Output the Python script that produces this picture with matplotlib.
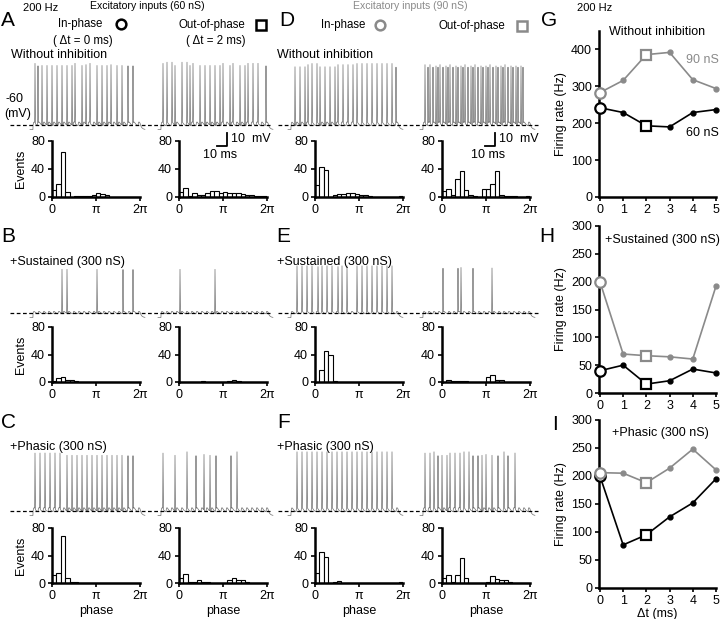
import numpy as np
import matplotlib.pyplot as plt

plt.rcParams['font.family'] = ['Liberation Sans', 'DejaVu Sans']
plt.rcParams['font.size'] = 9

W, H = 720, 619
GRAY = '#8a8a8a'
TRACE = '#6e6e6e'

# firing rate vs delay between the two inputs
dt_ms = [0, 1, 2, 3, 4, 5]
rate_none_60 = [242, 229, 193, 190, 229, 237]
rate_none_90 = [283, 316, 386, 392, 318, 294]
rate_sus_60 = [40, 50, 16, 22, 43, 36]
rate_sus_90 = [200, 70, 67, 65, 61, 192]
rate_pha_60 = [200, 77, 95, 127, 152, 195]
rate_pha_90 = [206, 205, 188, 214, 248, 211]

# phase histograms (20 bins over 0..2pi)
hist_A_in = [10, 18, 64, 7, 0, 1, 1, 2, 2, 3, 6, 4, 3, 0, 0, 0, 0, 0, 0, 0]
hist_A_out = [7, 13, 2, 5, 3, 3, 5, 8, 9, 6, 7, 5, 6, 5, 4, 3, 3, 2, 2, 1]
hist_D_in = [17, 43, 38, 0, 3, 4, 4, 5, 6, 4, 3, 3, 1, 0, 0, 0, 0, 0, 0, 2]
hist_D_out = [9, 11, 3, 26, 37, 10, 3, 2, 0, 12, 12, 18, 37, 3, 2, 1, 1, 0, 0, 1]
hist_B_in = [1, 6, 7, 3, 3, 2, 0, 0, 0, 0, 0, 0, 0, 0, 0, 0, 0, 0, 0, 0]
hist_B_out = [0, 0, 0, 0, 0, 1, 0, 0, 0, 0, 0, 1, 3, 1, 0, 0, 0, 0, 0, 0]
hist_E_in = [0, 17, 45, 39, 1, 0, 0, 0, 0, 0, 0, 0, 0, 0, 0, 0, 0, 0, 0, 0]
hist_E_out = [0, 3, 2, 2, 1, 1, 0, 0, 0, 0, 7, 10, 3, 3, 0, 0, 0, 0, 0, 0]
hist_C_in = [12, 15, 68, 8, 1, 1, 0, 0, 0, 0, 0, 0, 0, 0, 0, 0, 0, 0, 0, 0]
hist_C_out = [7, 13, 2, 2, 4, 2, 1, 0, 0, 0, 0, 5, 7, 4, 4, 1, 0, 0, 0, 0]
hist_F_in = [15, 45, 38, 0, 2, 3, 0, 0, 0, 0, 0, 0, 0, 0, 0, 0, 0, 0, 0, 1]
hist_F_out = [8, 11, 2, 12, 36, 7, 0, 0, 0, 0, 2, 10, 6, 4, 5, 1, 0, 0, 0, 0]

# spike times in the example traces (ms from trace start)
spk_A_in = [5, 8, 12, 17, 22, 27, 32, 37, 42, 45, 52, 56, 60, 67, 72, 77, 81, 87, 92, 98, 103]
spk_A_out = [5, 9, 14, 17, 24, 29, 32, 35, 42, 47, 52, 57, 62, 65, 72, 75, 82, 87, 90, 95, 100, 108]
spk_D_in = [7, 12, 17, 20, 24, 29, 32, 37, 42, 47, 50, 55, 60, 65, 69, 74, 79, 84, 89, 94, 99, 104, 108]
spk_D_out = [5, 8, 10, 13, 16, 18, 20, 23, 26, 28, 30, 33, 36, 38, 41, 43, 45, 48, 51, 53,
             55, 58, 61, 63, 66, 68, 70, 73, 76, 78, 81, 83, 85, 88, 91, 93, 96, 98, 101, 103]
spk_B_in = [32, 37, 67, 93, 103]
spk_B_out = [22, 57]
spk_E_in = [9, 14, 19, 24, 30, 34, 39, 44, 50, 54, 59, 69, 74, 79, 84, 89, 94, 99, 104]
spk_E_out = [23, 38, 41, 53, 72]
spk_C_in = [5, 10, 15, 20, 25, 30, 37, 42, 47, 52, 57, 62, 67, 72, 77, 82, 87, 92, 98, 103]
spk_C_out = [5, 17, 29, 38, 46, 52, 58, 73, 79]
spk_F_in = [9, 14, 19, 24, 29, 34, 39, 44, 49, 54, 59, 64, 69, 74, 79, 84, 89, 94, 99, 104]
spk_F_out = [5, 10, 14, 18, 22, 27, 30, 35, 40, 44, 49, 53, 58, 62, 66, 72, 78, 84, 88, 95]

STIM_PERIOD = 5.0   # 200 Hz
PX_PER_MV = 1.3

fig = plt.figure(figsize=(W / 100, H / 100), dpi=100)


def px_ax(x0, y0, x1, y1):
    return fig.add_axes([x0 / W, 1 - y1 / H, (x1 - x0) / W, (y1 - y0) / H])


def ftext(x, y, s, **kw):
    kw.setdefault('va', 'center')
    fig.text(x / W, 1 - y / H, s, **kw)


def make_trace(spikes, amp, ripple):
    t = np.arange(0, 115, 0.1)
    on, off = 3.0, 110.0
    v = np.where(t < on, -63.5, -60.8)
    for tk in np.arange(on, off, STIM_PERIOD):
        s = t - tk
        m = s > 0
        v[m] += ripple * s[m] * np.exp(1 - s[m])
    end = t > off
    v_off = v[np.searchsorted(t, off)]
    v[end] = -63.5 + (v_off + 63.5) * np.exp(-(t[end] - off) / 1.5)
    for ts in spikes:
        v += amp * np.exp(-((t - ts) / 0.2) ** 2)
    return t, v


def trace_row(x0, x1, dashed_y, starts, spikes, amp, ripple, dash, scalebar=None):
    ax = px_ax(x0, dashed_y - 75, x1, dashed_y + 25)
    ax.set_xlim(x0, x1)
    ax.set_ylim(-60 - 25 / PX_PER_MV, -60 + 75 / PX_PER_MV)
    ax.axis('off')
    for st, sp in zip(starts, spikes):
        t, v = make_trace(sp, amp, ripple)
        ax.plot(t + st, v, color=TRACE, lw=0.5)
    ax.plot(dash, [-60, -60], color='k', lw=0.9, ls=(0, (3, 2)))
    if scalebar is not None:
        sx, sy = scalebar
        ax.plot([sx - 10, sx, sx], [sy, sy, sy + 10], color='k', lw=1.3)
        ax.text(sx + 4, sy + 5, '10  mV', va='center')
        ax.text(sx - 7, sy - 7, '10 ms', va='center', ha='center')


def hist_ax(x0, y0, x1, y1, counts, ylabel=False, xlabel=False):
    ax = px_ax(x0, y0, x1, y1)
    ax.patch.set_visible(False)
    edges = np.linspace(0, 2 * np.pi, len(counts) + 1)
    ax.bar(edges[:-1], counts, width=edges[1] - edges[0], align='edge',
           facecolor='white', edgecolor='k', lw=0.8)
    ax.set_xlim(0, 2 * np.pi)
    ax.set_ylim(0, 80)
    ax.set_yticks([0, 40, 80])
    ax.set_xticks([0, np.pi, 2 * np.pi])
    ax.set_xticklabels(['0', 'π', '2π'])
    for s in ['top', 'right']:
        ax.spines[s].set_visible(False)
    for s in ['left', 'bottom']:
        ax.spines[s].set_linewidth(1.8)
    ax.tick_params(length=3, width=1.2, pad=2)
    if ylabel:
        ax.set_ylabel('Events', labelpad=3)
    if xlabel:
        ax.set_xlabel('phase', labelpad=2)
    return ax


def rate_ax(y0, y1, ymax, yticks, r60, r90, xlabel=False):
    ax = px_ax(599, y0, 716, y1)
    ax.patch.set_visible(False)
    for r, c in [(r60, 'k'), (r90, GRAY)]:
        ax.plot(dt_ms, r, color=c, lw=1.2, zorder=2, clip_on=False)
        xs = [dt_ms[i] for i in (1, 3, 4, 5)]
        ys = [r[i] for i in (1, 3, 4, 5)]
        ax.plot(xs, ys, 'o', color=c, ms=3.5, zorder=3, clip_on=False)
        ax.plot(dt_ms[0], r[0], 'o', mfc='white', mec=c, mew=1.6, ms=7.5, zorder=4, clip_on=False)
        ax.plot(dt_ms[2], r[2], 's', mfc='white', mec=c, mew=1.6, ms=7, zorder=4, clip_on=False)
    ax.set_xlim(-0.04, 5)
    ax.set_ylim(0, ymax)
    ax.set_yticks(yticks)
    ax.set_xticks(dt_ms)
    for s in ['top', 'right']:
        ax.spines[s].set_visible(False)
    for s in ['left', 'bottom']:
        ax.spines[s].set_linewidth(1.8)
    ax.tick_params(length=3, width=1.2, pad=2)
    ax.set_ylabel('Firing rate (Hz)', labelpad=3)
    if xlabel:
        ax.set_xlabel('Δt (ms)', labelpad=1)
    return ax


# ---- traces
trace_row(0, 280, 125, [30, 158], [spk_A_in, spk_A_out], 46, 3.0, [10, 272], scalebar=(227, -76))
trace_row(0, 280, 313, [30, 158], [spk_B_in, spk_B_out], 34, 2.0, [10, 272])
trace_row(0, 280, 511, [30, 158], [spk_C_in, spk_C_out], 43, 3.2, [10, 272])
trace_row(275, 545, 125, [288, 420], [spk_D_in, spk_D_out], 45, 3.0, [278, 538], scalebar=(495, -76))
trace_row(275, 545, 313, [288, 420], [spk_E_in, spk_E_out], 35, 2.0, [278, 538])
trace_row(275, 545, 511, [288, 420], [spk_F_in, spk_F_out], 43, 3.2, [278, 538])

# ---- histograms
rows = [(141, 197), (327, 382), (528, 583)]
left = [(hist_A_in, hist_A_out), (hist_B_in, hist_B_out), (hist_C_in, hist_C_out)]
right = [(hist_D_in, hist_D_out), (hist_E_in, hist_E_out), (hist_F_in, hist_F_out)]
for k, (y0, y1) in enumerate(rows):
    last = k == 2
    hist_ax(52, y0, 140, y1, left[k][0], ylabel=True, xlabel=last)
    hist_ax(179, y0, 267, y1, left[k][1], xlabel=last)
    hist_ax(315, y0, 403, y1, right[k][0], xlabel=last)
    hist_ax(442, y0, 530, y1, right[k][1], xlabel=last)

# ---- firing rate panels
rate_ax(31, 197, 450, [0, 100, 200, 300, 400], rate_none_60, rate_none_90)
rate_ax(226, 393, 300, [0, 50, 100, 150, 200, 250, 300], rate_sus_60, rate_sus_90)
rate_ax(420, 588, 300, [0, 50, 100, 150, 200, 250, 300], rate_pha_60, rate_pha_90, xlabel=True)

# ---- text and legend symbols
big = dict(fontsize=15)
ftext(1, 21, 'A', **big)
ftext(1, 236, 'B', **big)
ftext(1, 423, 'C', **big)
ftext(279, 21, 'D', **big)
ftext(276, 236, 'E', **big)
ftext(277, 423, 'F', **big)
ftext(541, 21, 'G', **big)
ftext(539, 237, 'H', **big)
ftext(552, 424, 'I', **big)

hdr = dict(fontsize=8.3)
ftext(23, 8, '200 Hz', fontsize=8)
ftext(577, 8, '200 Hz', fontsize=8)
ftext(147, 6, 'Excitatory inputs (60 nS)', ha='center', fontsize=7.6)
ftext(410, 6, 'Excitatory inputs (90 nS)', ha='center', color=GRAY, fontsize=7.6)
ftext(80, 24, 'In-phase', ha='center', **hdr)
ftext(83, 41, '( Δt = 0 ms)', ha='center', **hdr)
ftext(212, 25, 'Out-of-phase', ha='center', **hdr)
ftext(216, 41, '( Δt = 2 ms)', ha='center', **hdr)
ftext(343, 25, 'In-phase', ha='center', **hdr)
ftext(472, 26, 'Out-of-phase', ha='center', **hdr)
ftext(11, 55, 'Without inhibition')
ftext(277, 55, 'Without inhibition')
ftext(5, 99, '-60')
ftext(4, 114, '(mV)')
ftext(10, 262, '+Sustained (300 nS)')
ftext(277, 262, '+Sustained (300 nS)')
ftext(10, 447, '+Phasic (300 nS)')
ftext(277, 447, '+Phasic (300 nS)')
ftext(657, 32, 'Without inhibition', ha='center')
ftext(719, 60, '90 nS', color=GRAY, ha='right')
ftext(719, 133, '60 nS', ha='right')
ftext(662, 240, '+Sustained (300 nS)', ha='center')
ftext(660, 433, '+Phasic (300 nS)', ha='center')

leg = fig.add_axes([0, 0, 1, 1], facecolor='none')
leg.set_xlim(0, W)
leg.set_ylim(H, 0)
leg.axis('off')
leg.plot(121, 24, 'o', mfc='white', mec='k', mew=1.8, ms=7)
leg.plot(261, 25, 's', mfc='white', mec='k', mew=1.8, ms=7)
leg.plot(380, 25, 'o', mfc='white', mec=GRAY, mew=1.8, ms=7)
leg.plot(522, 26, 's', mfc='white', mec=GRAY, mew=1.8, ms=7)

fig.savefig('out.png', dpi=100)
